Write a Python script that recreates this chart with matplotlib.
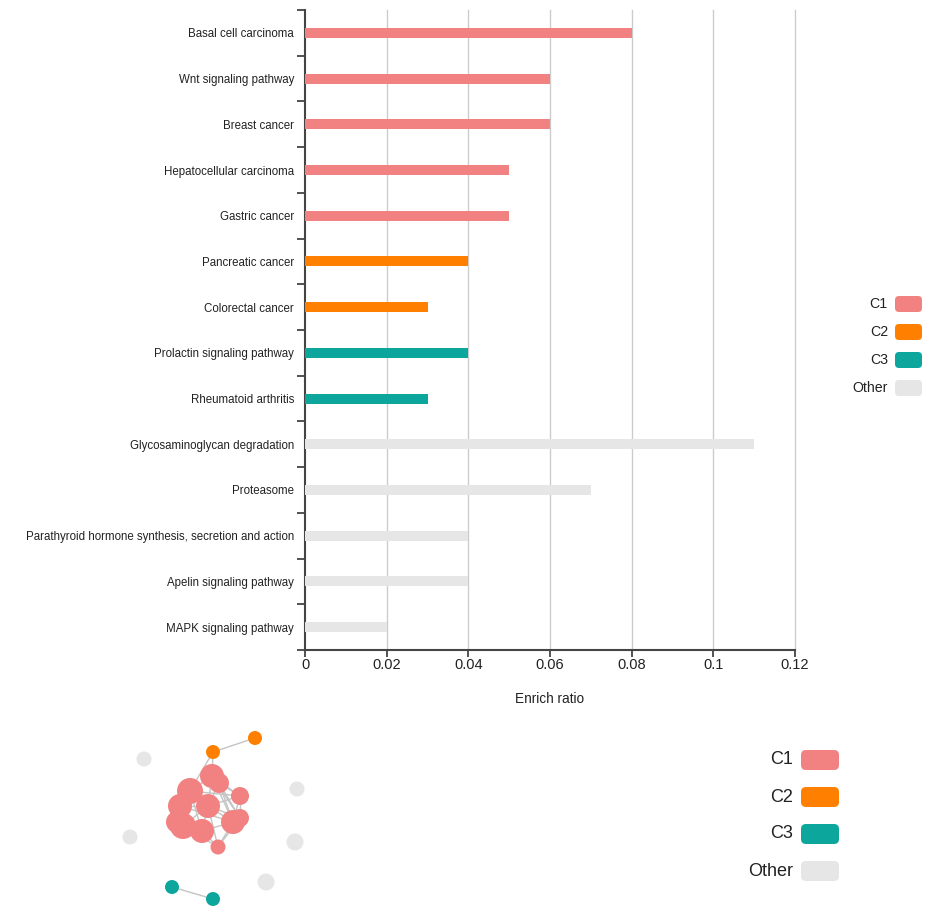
import matplotlib.pyplot as plt
import matplotlib.patches as patches

plt.rcParams['font.family'] = ['Liberation Sans', 'DejaVu Sans']

# ---------------- data ----------------
pathways = [
    "Basal cell carcinoma",
    "Wnt signaling pathway",
    "Breast cancer",
    "Hepatocellular carcinoma",
    "Gastric cancer",
    "Pancreatic cancer",
    "Colorectal cancer",
    "Prolactin signaling pathway",
    "Rheumatoid arthritis",
    "Glycosaminoglycan degradation",
    "Proteasome",
    "Parathyroid hormone synthesis, secretion and action",
    "Apelin signaling pathway",
    "MAPK signaling pathway",
]
enrich_ratio = [0.08, 0.06, 0.06, 0.05, 0.05, 0.04, 0.03, 0.04, 0.03,
                0.11, 0.07, 0.04, 0.04, 0.02]
cluster = ["C1", "C1", "C1", "C1", "C1", "C2", "C2", "C3", "C3",
           "Other", "Other", "Other", "Other", "Other"]

groups = ["C1", "C2", "C3", "Other"]
group_colors = {"C1": "#F28282", "C2": "#FF7F00", "C3": "#0DA69C", "Other": "#E6E6E6"}
x_ticks = [0, 0.02, 0.04, 0.06, 0.08, 0.1, 0.12]
x_tick_labels = ["0", "0.02", "0.04", "0.06", "0.08", "0.1", "0.12"]

# network nodes (layout position in pixels, radius, group)
node_x = [212, 219, 190, 180, 240, 208, 183, 202, 233, 240, 218, 177,
          213, 255,
          172, 213,
          144, 297, 130, 295, 266]
node_y = [776, 783, 791, 806, 796, 806, 826, 831, 822, 818, 847, 822,
          752, 738,
          887, 899,
          759, 789, 837, 842, 882]
node_r = [12, 10, 13, 12, 9, 12, 13, 12, 12, 9, 7.5, 11,
          7, 7,
          7, 7,
          7.5, 7.5, 7.5, 8.5, 8.5]
node_group = ["C1"] * 12 + ["C2"] * 2 + ["C3"] * 2 + ["Other"] * 5
edges = [(0, 1), (0, 2), (0, 4), (0, 5), (0, 8), (0, 9), (1, 4), (1, 5), (1, 9),
         (2, 3), (2, 5), (2, 6), (2, 7), (3, 5), (3, 6), (3, 7), (3, 11),
         (4, 5), (4, 8), (4, 9), (5, 6), (5, 7), (5, 8), (5, 9), (5, 10),
         (6, 7), (6, 10), (7, 8), (7, 10), (8, 9), (8, 10), (9, 10), (1, 8),
         (11, 6), (11, 7), (2, 4), (3, 8),
         (12, 13), (12, 0), (12, 2),
         (14, 15)]

# ---------------- figure ----------------
W, H = 941, 910
fig = plt.figure(figsize=(W / 100, H / 100), dpi=100)

ax = fig.add_axes([305 / W, 1 - 650 / H, 490 / W, 640 / H])
n = len(pathways)
ypos = list(range(n))
ax.barh(ypos, enrich_ratio, height=0.22,
        color=[group_colors[c] for c in cluster], zorder=3)
ax.set_ylim(n - 0.5, -0.5)
ax.set_xlim(0, 0.12)
ax.set_yticks(ypos)
ax.set_yticklabels(pathways, fontsize=8.3, color="#222222")
ax.set_yticks([i - 0.5 for i in range(n + 1)], minor=True)
ax.tick_params(axis="y", which="major", length=0, pad=8)
ax.tick_params(axis="y", which="minor", length=6, width=1.3, color="#444444")
ax.set_xticks(x_ticks)
ax.set_xticklabels(x_tick_labels, fontsize=10.5, color="#222222")
ax.tick_params(axis="x", length=5, width=1.3, color="#444444", pad=1)
ax.set_xlabel("Enrich ratio", fontsize=9.8, color="#222222", labelpad=14)
for t in x_ticks[1:]:
    ax.axvline(t, color="#cccccc", lw=1, zorder=0, clip_on=False)
for s in ["top", "right"]:
    ax.spines[s].set_visible(False)
for s in ["left", "bottom"]:
    ax.spines[s].set_color("#444444")
    ax.spines[s].set_linewidth(1.5)

# overlay in pixel coordinates: legends and network
ov = fig.add_axes([0, 0, 1, 1])
ov.set_xlim(0, W)
ov.set_ylim(H, 0)
ov.axis("off")

# top legend
for i, g in enumerate(groups):
    yc = 304 + i * 28
    ov.add_patch(patches.FancyBboxPatch((896, yc - 7), 25, 14,
                                        boxstyle="round,pad=1,rounding_size=4",
                                        fc=group_colors[g], ec="none"))
    ov.text(888, yc, g, ha="right", va="center", fontsize=10.2, color="#222222")

# bottom legend
for i, g in enumerate(groups):
    yc = 760 + i * 37
    ov.add_patch(patches.FancyBboxPatch((802, yc - 9), 36, 18,
                                        boxstyle="round,pad=1,rounding_size=5",
                                        fc=group_colors[g], ec="none"))
    ov.text(793, yc, g, ha="right", va="center", fontsize=13, color="#222222")

# network
for a, b in edges:
    ov.plot([node_x[a], node_x[b]], [node_y[a], node_y[b]],
            color="#c4c4c4", lw=1, zorder=2)
for x, y, r, g in zip(node_x, node_y, node_r, node_group):
    ov.add_patch(patches.Circle((x, y), r, fc=group_colors[g], ec="none", zorder=3))

fig.savefig("out.png", dpi=100)
